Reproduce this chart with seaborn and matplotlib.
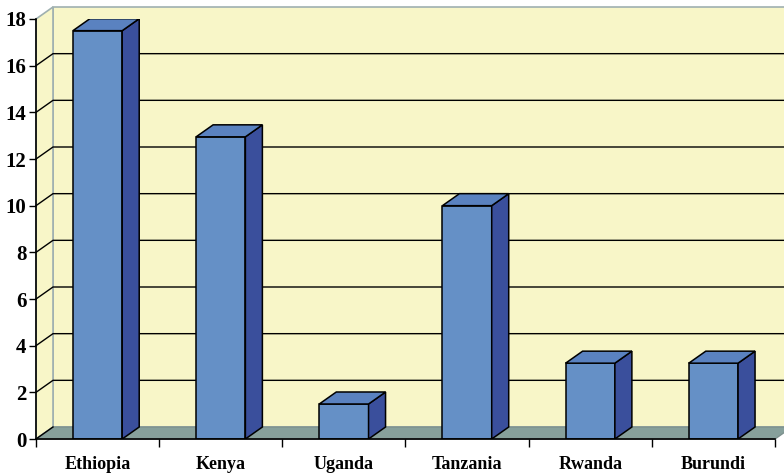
import numpy as np
import pandas as pd
import matplotlib
matplotlib.use("Agg")
import matplotlib.pyplot as plt
from matplotlib.patches import Polygon
import seaborn as sns

# data
countries = ["Ethiopia", "Kenya", "Uganda", "Tanzania", "Rwanda", "Burundi"]
values = [17.5, 12.95, 1.5, 10.0, 3.25, 3.25]
yticks = [0, 2, 4, 6, 8, 10, 12, 14, 16, 18]

wall = "#f8f6c8"
floor = "#87a09b"
wall_edge = "#9fb0b0"
front = "#6590c6"
side = "#3a4f9c"
top = "#5a82c0"

plt.rcParams["font.family"] = ["Liberation Serif", "DejaVu Serif"]
plt.rcParams["font.weight"] = "bold"

fig = plt.figure(figsize=(7.84, 4.73), dpi=100)
ax_w, ax_h = 739, 420
ax = fig.add_axes([36 / 784, 34 / 473, ax_w / 784, ax_h / 473])
ax.set_facecolor("none")

df = pd.DataFrame({"country": countries, "value": values})
sns.barplot(data=df, x="country", y="value", color=front, saturation=1,
            width=0.4, edgecolor="black", linewidth=1.1, ax=ax)
bars = list(ax.patches)

x0, x1 = -0.5, len(countries) - 0.5
y0, y1 = yticks[0], yticks[-1]
ax.set_xlim(x0, x1)
ax.set_ylim(y0, y1)

# depth offset of the fake 3d look, pixels -> data units
ddx = 17 * (x1 - x0) / ax_w
ddy = 12 * (y1 - y0) / ax_h

# walls and floor
back = Polygon([(x0 + ddx, ddy), (x0 + ddx, y1 + ddy), (x1 + 1, y1 + ddy), (x1 + 1, ddy)],
               facecolor=wall, edgecolor=wall_edge, lw=1.2, clip_on=False, zorder=0)
left = Polygon([(x0, y0), (x0, y1), (x0 + ddx, y1 + ddy), (x0 + ddx, ddy)],
               facecolor=wall, edgecolor=wall_edge, lw=1.2, clip_on=False, zorder=0)
flr = Polygon([(x0, y0), (x1, y0), (x1 + ddx, ddy), (x0 + ddx, ddy)],
              facecolor=floor, edgecolor="#7d918e", lw=1, clip_on=False, zorder=1)
for p in (back, left, flr):
    ax.add_patch(p)

# gridlines running along side wall and back wall
for y in yticks[1:-1]:
    ax.plot([x0, x0 + ddx, x1 + 1], [y, y + ddy, y + ddy], color="black", lw=1,
            clip_on=False, zorder=1.5)
ax.plot([x0, x0 + ddx], [0, ddy], color="black", lw=1, clip_on=False, zorder=1.5)

# side and top faces of the columns
for b in bars:
    bx, bw, bh = b.get_x(), b.get_width(), b.get_height()
    b.set_zorder(4)
    ax.add_patch(Polygon([(bx + bw, 0), (bx + bw + ddx, ddy), (bx + bw + ddx, bh + ddy), (bx + bw, bh)],
                         facecolor=side, edgecolor="black", lw=1.1, zorder=4))
    ax.add_patch(Polygon([(bx, bh), (bx + bw, bh), (bx + bw + ddx, bh + ddy), (bx + ddx, bh + ddy)],
                         facecolor=top, edgecolor="black", lw=1.1, zorder=4))

# axes
for s in ["top", "right"]:
    ax.spines[s].set_visible(False)
for s in ["left", "bottom"]:
    ax.spines[s].set_color("black")
    ax.spines[s].set_linewidth(1.2)
    ax.spines[s].set_zorder(5)

ax.set_yticks(yticks)
ax.tick_params(axis="y", length=5, width=1, color="black", labelsize=15, pad=2)
ax.set_xticks(np.arange(x0, x1 + 0.01, 1), minor=True)
ax.tick_params(axis="x", which="major", length=0, labelsize=13, pad=12)
ax.tick_params(axis="x", which="minor", length=6, width=1, color="black")
ax.set_xlabel("")
ax.set_ylabel("")

fig.savefig("out.png", dpi=100)
